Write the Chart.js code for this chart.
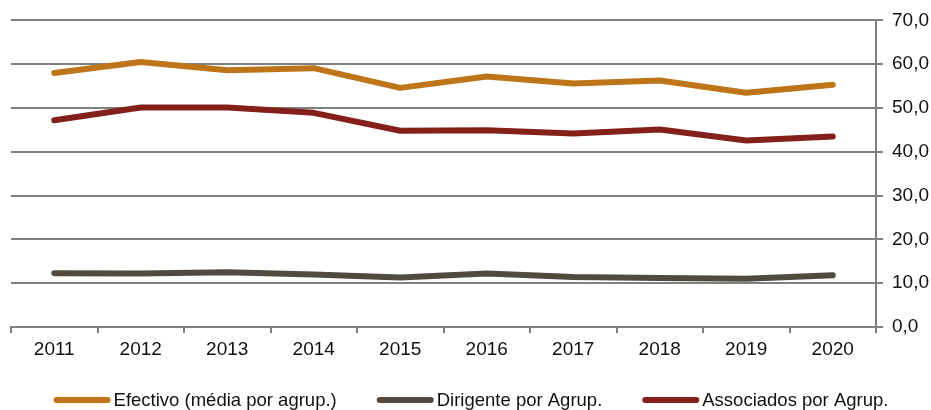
<!DOCTYPE html>
<html>
<head>
<meta charset="utf-8">
<script src="https://cdn.jsdelivr.net/npm/chart.js@4.4.1/dist/chart.umd.min.js"></script>
<style>
html,body{margin:0;padding:0;background:#fff;}
#wrap{width:931px;height:410px;position:relative;}
</style>
</head>
<body>
<div id="wrap"><canvas id="c" width="931" height="410"></canvas></div>
<script>
const categories = ["2011","2012","2013","2014","2015","2016","2017","2018","2019","2020"];
const efectivo   = [58.0, 60.5, 58.6, 59.1, 54.6, 57.2, 55.6, 56.3, 53.5, 55.3];
const dirigente  = [12.3, 12.2, 12.5, 12.0, 11.3, 12.2, 11.4, 11.2, 11.0, 11.8];
const associados = [47.2, 50.1, 50.1, 48.9, 44.8, 44.9, 44.2, 45.1, 42.6, 43.5];
const seriesNames = ["Efectivo (média por agrup.)", "Dirigente por Agrup.", "Associados por Agrup."];
const seriesColors = ["#BE7519", "#514A3F", "#84201A"];
const yTicks = [0,10,20,30,40,50,60,70];

const FONT = "'Liberation Sans', Arial, sans-serif";
const GRID = "#808080";

const legendPlugin = {
  id: 'customLegend',
  afterDraw(chart) {
    const ctx = chart.ctx;
    ctx.save();
    ctx.font = "18.5px " + FONT;
    const lineLen = 57, gap = 3, itemGap = 40;
    const items = chart.data.datasets.map(d => ({label: d.label, color: d.borderColor, w: ctx.measureText(d.label).width}));
    let total = 0;
    items.forEach((it, i) => { total += lineLen + gap + it.w + (i < items.length - 1 ? itemGap : 0); });
    let x = 471 - total / 2;
    const y = 400;
    items.forEach(it => {
      ctx.strokeStyle = it.color;
      ctx.lineWidth = 6;
      ctx.lineCap = 'round';
      ctx.beginPath();
      ctx.moveTo(x + 3, y);
      ctx.lineTo(x + lineLen - 3, y);
      ctx.stroke();
      ctx.fillStyle = '#111';
      ctx.textBaseline = 'middle';
      ctx.textAlign = 'left';
      ctx.fillText(it.label, x + lineLen + gap, y + 1);
      x += lineLen + gap + it.w + itemGap;
    });
    ctx.restore();
  }
};

new Chart(document.getElementById('c'), {
  type: 'line',
  data: {
    labels: categories,
    datasets: [efectivo, dirigente, associados].map((d, i) => ({
      label: seriesNames[i],
      data: d,
      borderColor: seriesColors[i],
      backgroundColor: seriesColors[i],
      borderWidth: 6,
      borderCapStyle: 'round',
      borderJoinStyle: 'round',
      pointRadius: 0,
      tension: 0,
      fill: false
    }))
  },
  options: {
    responsive: false,
    animation: false,
    devicePixelRatio: 1,
    layout: { padding: { left: 11, right: 0, top: 13, bottom: 43 } },
    plugins: { legend: { display: false }, tooltip: { enabled: false } },
    scales: {
      x: {
        offset: true,
        grid: { offset: true, drawOnChartArea: false, drawTicks: true, tickLength: 6, color: GRID, lineWidth: 2 },
        border: { display: true, color: GRID, width: 2 },
        ticks: { color: '#111', font: { family: FONT, size: 19 }, padding: 5, maxRotation: 0 },
        afterFit(s) { s.height = 40; }
      },
      y: {
        position: 'right',
        min: 0, max: 70,
        afterBuildTicks(s) { s.ticks = yTicks.map(v => ({ value: v })); },
        grid: { color: GRID, lineWidth: 2, drawTicks: true, tickLength: 7 },
        border: { display: true, color: GRID, width: 2 },
        ticks: {
          color: '#111', font: { family: FONT, size: 19 }, padding: 9,
          callback: v => v.toFixed(1).replace('.', ',')
        },
        afterFit(s) { s.width = 55; }
      }
    }
  },
  plugins: [legendPlugin]
});
</script>
</body>
</html>
